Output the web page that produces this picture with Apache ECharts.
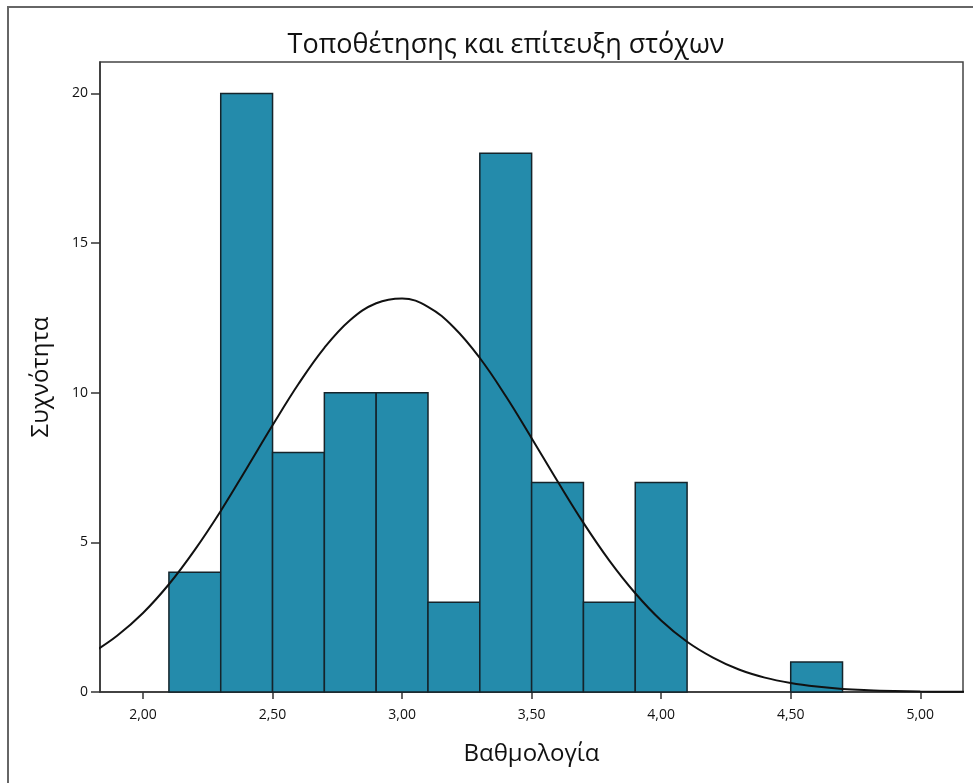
<!DOCTYPE html>
<html>
<head>
<meta charset="utf-8">
<script src="https://cdn.jsdelivr.net/npm/echarts@6/dist/echarts.min.js"></script>
<style>
html,body{margin:0;padding:0;background:#fff;}
#chart{width:973px;height:783px;}
</style>
</head>
<body>
<div id="chart"></div>
<script>
// ---- data ----
const titleText = 'Τοποθέτησης και επίτευξη στόχων';
const xName = 'Βαθμολογία';
const yName = 'Συχνότητα';
const binStarts = [2.1, 2.3, 2.5, 2.7, 2.9, 3.1, 3.3, 3.5, 3.7, 3.9, 4.1, 4.3, 4.5];
const binWidth = 0.2;
const counts    = [4, 20, 8, 10, 10, 3, 18, 7, 3, 7, 0, 0, 1];
const xTicks = [2.0, 2.5, 3.0, 3.5, 4.0, 4.5, 5.0];
const yTicks = [0, 5, 10, 15, 20];
// normal curve at 0.1 steps
const curveX = [1.8,1.9,2.0,2.1,2.2,2.3,2.4,2.5,2.6,2.7,2.8,2.9,3.0,3.1,3.2,3.3,3.4,3.5,3.6,3.7,3.8,3.9,4.0,4.1,4.2,4.3,4.4,4.5,4.6,4.7,4.8,4.9,5.0,5.1,5.2];
const curveY = [1.29,1.88,2.64,3.60,4.75,6.05,7.47,8.91,10.29,11.50,12.43,12.99,13.15,12.87,12.18,11.16,9.89,8.48,7.04,5.65,4.39,3.30,2.39,1.68,1.15,0.75,0.48,0.30,0.18,0.10,0.057,0.031,0.016,0.008,0.004];

const barData = [];
binStarts.forEach((s, i) => { if (counts[i] > 0) barData.push([s, s + binWidth, counts[i]]); });
const lineData = curveX.map((x, i) => [x, curveY[i]]);

const fmt = v => v.toFixed(2).replace('.', ',');
const font = '"Open Sans", "Noto Sans", sans-serif';

const chart = echarts.init(document.getElementById('chart'), null, {renderer: 'canvas'});
chart.setOption({
  animation: false,
  backgroundColor: '#fff',
  graphic: [{
    type: 'rect', silent: true, z: -10,
    shape: {x: 8, y: 7, width: 1000, height: 800},
    style: {fill: 'none', stroke: '#666', lineWidth: 2}
  }],
  title: {
    text: titleText, left: 501, top: 27, textAlign: 'center',
    textStyle: {fontFamily: font, fontSize: 27, fontWeight: 'normal', color: '#111'}
  },
  grid: {left: 100, top: 62, right: 10, bottom: 91, show: true, borderColor: '#444', borderWidth: 1.5, backgroundColor: '#fff'},
  xAxis: {
    type: 'value', min: 1.834, max: 5.165,
    name: xName, nameLocation: 'middle', nameGap: 50,
    nameTextStyle: {fontFamily: font, fontSize: 24, color: '#111'},
    axisLine: {show: true, lineStyle: {color: '#333', width: 1.5}},
    axisTick: {show: true, length: 7, customValues: xTicks, lineStyle: {color: '#333', width: 1.5}},
    axisLabel: {customValues: xTicks, formatter: fmt, fontFamily: font, fontSize: 14, color: '#111', margin: 16},
    splitLine: {show: false}
  },
  yAxis: {
    type: 'value', min: 0, max: 21.05,
    name: yName, nameLocation: 'middle', nameGap: 47, nameRotate: 90,
    nameTextStyle: {fontFamily: font, fontSize: 24, color: '#111'},
    axisLine: {show: true, lineStyle: {color: '#333', width: 1.5}},
    axisTick: {show: true, length: 9, customValues: yTicks, lineStyle: {color: '#333', width: 1.5}},
    axisLabel: {customValues: yTicks, fontFamily: font, fontSize: 14, color: '#111', margin: 12},
    splitLine: {show: false}
  },
  series: [{
    type: 'custom',
    data: barData,
    encode: {x: [0, 1], y: 2},
    renderItem: function (params, api) {
      const p0 = api.coord([api.value(0), api.value(2)]);
      const p1 = api.coord([api.value(1), 0]);
      return {
        type: 'rect',
        shape: {x: p0[0], y: p0[1], width: p1[0] - p0[0], height: p1[1] - p0[1]},
        style: {fill: '#248BAB', stroke: '#15242b', lineWidth: 1.5}
      };
    },
    z: 2
  }, {
    type: 'line',
    data: lineData,
    smooth: 0.4,
    showSymbol: false,
    symbol: 'none',
    clip: true,
    lineStyle: {color: '#111', width: 2},
    z: 5
  }]
});
</script>
</body>
</html>
